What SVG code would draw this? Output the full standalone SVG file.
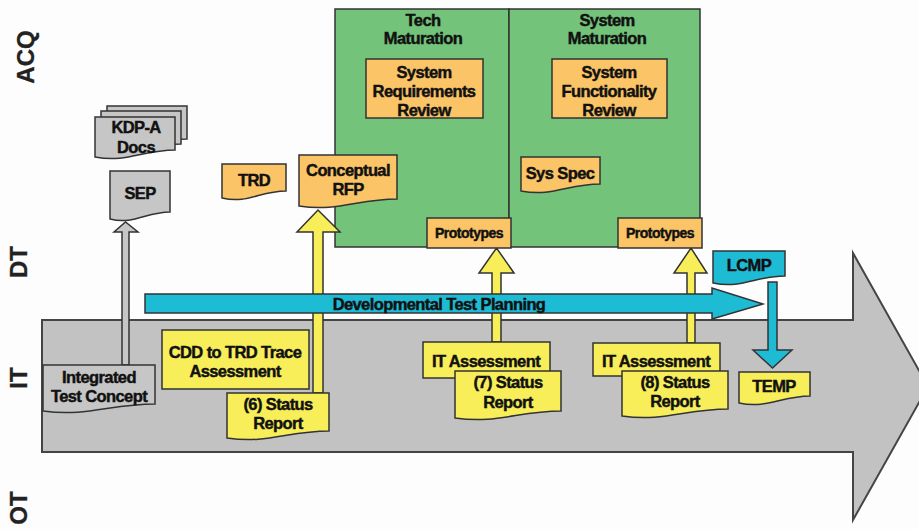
<svg xmlns="http://www.w3.org/2000/svg" width="919" height="529" viewBox="0 0 919 529">
<style>
text{font-family:"Liberation Sans",Arial,sans-serif;font-weight:bold;fill:#111;stroke:#111;stroke-width:0.45;text-anchor:middle}
.t{font-size:16.5px;letter-spacing:-0.6px}
.s{font-size:14px;letter-spacing:-0.5px}
.lane{font-size:24px;fill:#222;stroke:#222;stroke-width:0.3}
.ln{stroke:#333;stroke-width:1.5}
.green{fill:#73c37a}
.orange{fill:#fbc466}
.yellow{fill:#f7ee5a}
.cyan{fill:#1ebbd5}
.grey{fill:#c6c6c6}
.big{fill:#c2c2c2;stroke:#444;stroke-width:2}
</style>
<rect width="919" height="529" fill="#fdfdfd"/>
<g id="lanes">
<text class="lane" transform="translate(34,57) rotate(-90)">ACQ</text>
<text class="lane" transform="translate(27,262) rotate(-90)">DT</text>
<text class="lane" transform="translate(27,378) rotate(-90)">IT</text>
<text class="lane" transform="translate(27,508) rotate(-90)">OT</text>
</g>
<g id="timeline">
<path class="big" d="M42,320 H853 V253 L928,386.5 L853,520 V452 H42 Z"/>
</g>
<g id="tech-maturation">
<rect class="green ln" x="335" y="9" width="174" height="238"/>
<text class="t" x="423" y="26">Tech</text>
<text class="t" x="423" y="44">Maturation</text>
</g>
<g id="system-maturation">
<rect class="green ln" x="509" y="9" width="191" height="238"/>
<text class="t" x="607" y="26">System</text>
<text class="t" x="607" y="44">Maturation</text>
</g>
<g id="connectors">
<path class="yellow ln" d="M313,393 V232 H297 L318,210 L340,232 H323 V393 Z"/>
<path class="yellow ln" d="M492,342 V273 H479 L496.5,248 L514,273 H501 V342 Z"/>
<path class="yellow ln" d="M687,343 V273 H674 L691,248 L707,273 H695 V343 Z"/>
<path class="grey ln" d="M122,365 V232 H114 L125.5,222 L138,232 H129 V365 Z"/>
<path class="cyan ln" d="M145,294 H712 V288 L763,304 L712,319 V313 H145 Z"/>
<text class="t" x="439" y="310">Developmental Test Planning</text>
<path class="cyan ln" d="M768,282 V350 H753 L772.5,368 L792,350 H777 V282 Z"/>
</g>
<g id="kdp-a-docs">
<path class="grey ln" d="M107,106 H187 V139 C155,139 139,152 107,146 Z"/>
<path class="grey ln" d="M101,111 H181 V144 C149,144 133,157 101,151 Z"/>
<path class="grey ln" d="M95,117 H175 V150 C143,150 127,163 95,157 Z"/>
<text class="t" x="136" y="133">KDP-A</text>
<text class="t" x="136" y="153">Docs</text>
</g>
<g id="sep">
<path class="grey ln" d="M110,171 H170 V212 C146,212 134,225 110,219 Z"/>
<text class="t" x="140" y="199">SEP</text>
</g>
<g id="trd">
<path class="orange ln" d="M222,164 H286 V191 C260,191 248,204 222,198 Z"/>
<text class="t" x="254" y="186">TRD</text>
</g>
<g id="conceptual-rfp">
<path class="orange ln" d="M299,155 H397 V199 C358,199 338,212 299,206 Z"/>
<text class="t" x="348" y="176">Conceptual</text>
<text class="t" x="348" y="195">RFP</text>
</g>
<g id="srr">
<rect class="orange ln" x="366" y="59" width="117" height="59"/>
<text class="t" x="424" y="78">System</text>
<text class="t" x="424" y="97">Requirements</text>
<text class="t" x="424" y="116">Review</text>
</g>
<g id="sfr">
<rect class="orange ln" x="552" y="59" width="115" height="59"/>
<text class="t" x="609" y="78">System</text>
<text class="t" x="609" y="97">Functionality</text>
<text class="t" x="609" y="116">Review</text>
</g>
<g id="sys-spec">
<path class="orange ln" d="M521,157 H600 V184 C568,184 553,197 521,191 Z"/>
<text class="t" x="560" y="179">Sys Spec</text>
</g>
<g id="prototypes-1">
<rect class="orange ln" x="427" y="218" width="84" height="30"/>
<text class="s" x="469" y="238">Prototypes</text>
</g>
<g id="prototypes-2">
<rect class="orange ln" x="618" y="218" width="84" height="30"/>
<text class="s" x="660" y="238">Prototypes</text>
</g>
<g id="lcmp">
<path class="cyan ln" d="M713,251 H785 V276 C756,276 742,289 713,283 Z"/>
<text class="t" x="749" y="271">LCMP</text>
</g>
<g id="integrated-test-concept">
<path class="grey ln" d="M43,365 H155 V404 C110,404 88,417 43,411 Z"/>
<text class="t" x="99" y="383">Integrated</text>
<text class="t" x="99" y="402">Test Concept</text>
</g>
<g id="cdd-trace">
<rect class="yellow ln" x="162" y="330" width="147" height="59"/>
<text class="t" x="235" y="358">CDD to TRD Trace</text>
<text class="t" x="235" y="377">Assessment</text>
</g>
<g id="status-6">
<path class="yellow ln" d="M227,393 H329 V431 C288,431 268,444 227,438 Z"/>
<text class="t" x="278" y="410">(6) Status</text>
<text class="t" x="278" y="429">Report</text>
</g>
<g id="it-assessment-1">
<rect class="yellow ln" x="423" y="342" width="127" height="36"/>
<text class="t" x="486" y="367">IT Assessment</text>
</g>
<g id="status-7">
<path class="yellow ln" d="M455,371 H561 V411 C519,411 497,424 455,418 Z"/>
<text class="t" x="508" y="388">(7) Status</text>
<text class="t" x="508" y="408">Report</text>
</g>
<g id="it-assessment-2">
<rect class="yellow ln" x="593" y="343" width="127" height="33"/>
<text class="t" x="656" y="367">IT Assessment</text>
</g>
<g id="status-8">
<path class="yellow ln" d="M622,371 H728 V409 C686,409 664,422 622,416 Z"/>
<text class="t" x="675" y="388">(8) Status</text>
<text class="t" x="675" y="407">Report</text>
</g>
<g id="temp">
<path class="yellow ln" d="M739,372 H810 V396 C782,396 767,409 739,403 Z"/>
<text class="t" x="774" y="392">TEMP</text>
</g>
</svg>
